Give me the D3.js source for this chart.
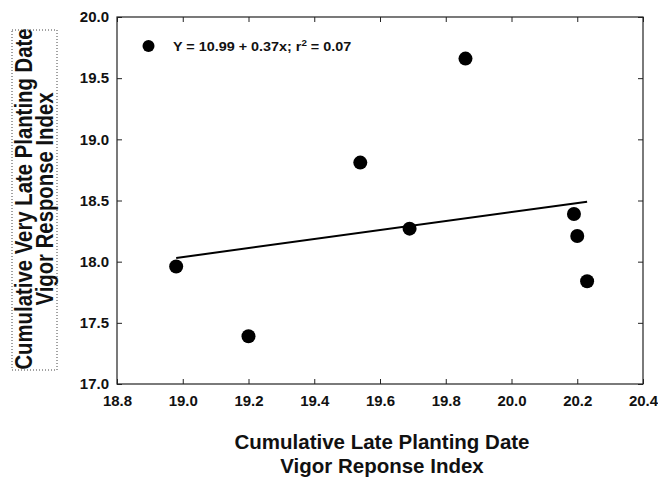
<!DOCTYPE html>
<html><head><meta charset="utf-8">
<script src="https://cdn.jsdelivr.net/npm/d3@7"></script>
<style>body{margin:0;background:#fff}svg{display:block}text{font-family:"Liberation Sans",Arial,sans-serif;font-weight:bold;fill:#111}</style>
</head><body>
<script>
const xValues = [18.98, 19.20, 19.54, 19.69, 19.86, 20.19, 20.20, 20.23];
const yValues = [17.96, 17.39, 18.81, 18.27, 19.66, 18.39, 18.21, 17.84];
const fitX = [18.98, 20.23];
const fitY = [18.03, 18.49];
const xTicks = [18.8, 19.0, 19.2, 19.4, 19.6, 19.8, 20.0, 20.2, 20.4];
const yTicks = [17.0, 17.5, 18.0, 18.5, 19.0, 19.5, 20.0];
const legendText = "Y = 10.99 + 0.37x; r";
const xTitle = ["Cumulative Late Planting Date", "Vigor Reponse Index"];
const yTitle = ["Cumulative Very Late Planting Date", "Vigor Response Index"];

const W = 658, H = 481;
const L = 117, R = 643, T = 17, B = 384;
const svg = d3.select("body").append("svg").attr("width", W).attr("height", H);
const x = d3.scaleLinear().domain([18.8, 20.4]).range([L, R]);
const y = d3.scaleLinear().domain([17.0, 20.0]).range([B, T]);

const tl = 5;
function styleAxis(g){ g.select(".domain").remove(); g.selectAll("line").attr("stroke","#222").attr("stroke-width",1); }
svg.append("g").attr("transform",`translate(0,${B})`).call(d3.axisBottom(x).tickValues(xTicks).tickSizeInner(-tl).tickSizeOuter(0).tickPadding(11).tickFormat(d3.format(".1f")))
  .call(styleAxis).selectAll("text").style("font-size","15px").style("font-family","Liberation Sans, Arial").style("font-weight","bold").attr("fill","#111");
svg.append("g").attr("transform",`translate(0,${T})`).call(d3.axisTop(x).tickValues(xTicks).tickSizeInner(-tl).tickSizeOuter(0).tickFormat(""))
  .call(styleAxis);
svg.append("g").attr("transform",`translate(${L},0)`).call(d3.axisLeft(y).tickValues(yTicks).tickSizeInner(-tl).tickSizeOuter(0).tickPadding(8).tickFormat(d3.format(".1f")))
  .call(styleAxis).selectAll("text").style("font-size","15px").style("font-family","Liberation Sans, Arial").style("font-weight","bold").attr("fill","#111");
svg.append("g").attr("transform",`translate(${R},0)`).call(d3.axisRight(y).tickValues(yTicks).tickSizeInner(-tl).tickSizeOuter(0).tickFormat(""))
  .call(styleAxis);
svg.append("rect").attr("x",L).attr("y",T).attr("width",R-L).attr("height",B-T).attr("fill","none").attr("stroke","#222").attr("stroke-width",1.2);

// fit line
svg.append("line").attr("x1",x(fitX[0])).attr("y1",y(fitY[0])).attr("x2",x(fitX[1])).attr("y2",y(fitY[1]))
  .attr("stroke","#000").attr("stroke-width",2);

// points
svg.selectAll("circle.pt").data(xValues).enter().append("circle").attr("class","pt")
  .attr("cx",(d)=>x(d)).attr("cy",(d,i)=>y(yValues[i])).attr("r",7).attr("fill","#000");

// legend
svg.append("circle").attr("cx",148.5).attr("cy",46).attr("r",6).attr("fill","#000");
const lt = svg.append("text").attr("transform","translate(173,50.5) scale(1.15,1)").style("font-size","12.5px");
lt.append("tspan").text(legendText);
lt.append("tspan").attr("dy",-5).style("font-size","8.5px").text("2");
lt.append("tspan").attr("dy",5).text(" = 0.07");

// x title
xTitle.forEach((t,i)=>svg.append("text").attr("x",382).attr("y",449+i*24).attr("text-anchor","middle").style("font-size","20.5px").text(t));
// y title
yTitle.forEach((t,i)=>svg.append("text").attr("transform",`translate(${32+i*20.5},199) rotate(-90) scale(0.865,1)`).attr("text-anchor","middle").style("font-size","23.5px").text(t));
svg.append("rect").attr("x",12).attr("y",30).attr("width",45).attr("height",340).attr("fill","none")
  .attr("stroke","#444").attr("stroke-width",1).attr("stroke-dasharray","1,2");
</script>
</body></html>
